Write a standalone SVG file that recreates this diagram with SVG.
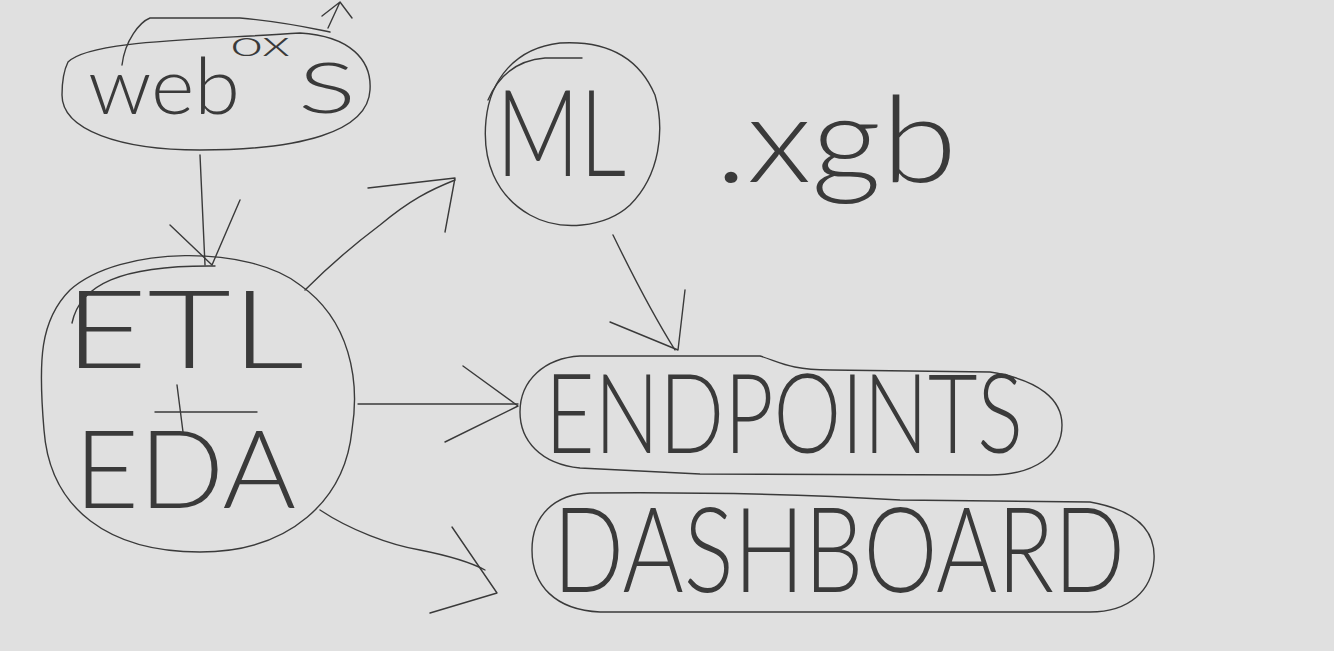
<svg xmlns="http://www.w3.org/2000/svg" width="1334" height="651" viewBox="0 0 1334 651">
<style>
.s{fill:none;stroke:#3a3a3a;stroke-width:1.4;stroke-linecap:round;stroke-linejoin:round}
.t{font-family:"Lato","Open Sans","Liberation Sans",sans-serif;font-weight:300;fill:#3a3a3a}
</style>
<rect width="1334" height="651" fill="#e0e0e0"/>
<g id="node-web">
<path class="s" d="M68,62 C90,40 200,40 300,33 C350,36 372,60 370,90 C368,132 300,150 200,150 C120,150 62,130 62,95 C62,80 64,70 68,62 Z"/>
<path class="s" d="M122,65 C125,40 140,22 150,18 L240,18 C285,22 310,28 330,32"/>
<text class="t" x="88" y="114" font-size="78" textLength="152" lengthAdjust="spacingAndGlyphs">web</text>
<text class="t" x="230" y="56" font-size="36" textLength="60" lengthAdjust="spacingAndGlyphs">ox</text>
<text class="t" x="298" y="113" font-size="70" textLength="58" lengthAdjust="spacingAndGlyphs">S</text>
<path class="s" d="M328,28 L340,2 M322,16 L340,2 L352,18"/>
</g>
<g id="node-etl">
<path class="s" d="M70,290 C120,245 250,245 300,285 C350,320 360,380 352,430 C345,500 290,552 200,552 C110,552 50,510 44,430 C38,360 40,320 70,290 Z"/>
<path class="s" d="M72,323 C80,285 120,265 215,266"/>
<text class="t" x="64" y="368" font-size="108" textLength="240" lengthAdjust="spacingAndGlyphs">ETL</text>
<path class="s" d="M177,385 L183,432 M155,412 L257,412"/>
<text class="t" x="74" y="508" font-size="108" textLength="222" lengthAdjust="spacingAndGlyphs">EDA</text>
</g>
<g id="node-ml">
<path class="s" d="M560,43 C610,40 640,60 655,95 C665,130 660,175 630,205 C605,228 560,232 530,215 C495,195 482,160 486,120 C490,80 515,48 560,43 Z"/>
<path class="s" d="M488,100 C500,72 520,60 545,58 L582,58"/>
<text class="t" x="496" y="176" font-size="120" textLength="130" lengthAdjust="spacingAndGlyphs">ML</text>
</g>
<g id="node-xgb">
<text class="t" x="715" y="182" font-size="120" textLength="242" lengthAdjust="spacingAndGlyphs">.xgb</text>
</g>
<g id="node-endpoints">
<path class="s" d="M580,356 L760,356 C780,362 790,370 830,370 L990,372 C1040,380 1062,400 1062,425 C1062,455 1035,475 990,475 L700,474 C660,472 620,470 580,468 C540,464 520,440 520,412 C520,380 545,358 580,356 Z"/>
<text class="t" x="545" y="453" font-size="110" textLength="478" lengthAdjust="spacingAndGlyphs">ENDPOINTS</text>
</g>
<g id="node-dashboard">
<path class="s" d="M590,493 C700,492 800,494 900,500 L1090,502 C1135,510 1156,530 1154,560 C1152,590 1130,612 1090,612 L600,612 C555,610 532,585 532,550 C532,515 555,494 590,493 Z"/>
<text class="t" x="553" y="592" font-size="118" textLength="572" lengthAdjust="spacingAndGlyphs">DASHBOARD</text>
</g>
<g id="connectors">
<path class="s" d="M200,155 L205,265"/>
<path class="s" d="M170,225 L212,265 L240,200"/>
<path class="s" d="M305,290 C330,265 360,240 380,225 C410,200 430,190 455,180"/>
<path class="s" d="M368,188 L455,178 L445,232"/>
<path class="s" d="M613,235 C630,270 650,310 675,350"/>
<path class="s" d="M610,322 L678,350 L685,290"/>
<path class="s" d="M358,404 L518,404"/>
<path class="s" d="M463,366 L518,406 L445,442"/>
<path class="s" d="M320,510 C350,530 390,545 420,550 C450,556 470,562 485,570"/>
<path class="s" d="M452,527 L497,593 L430,613"/>
</g>
</svg>
